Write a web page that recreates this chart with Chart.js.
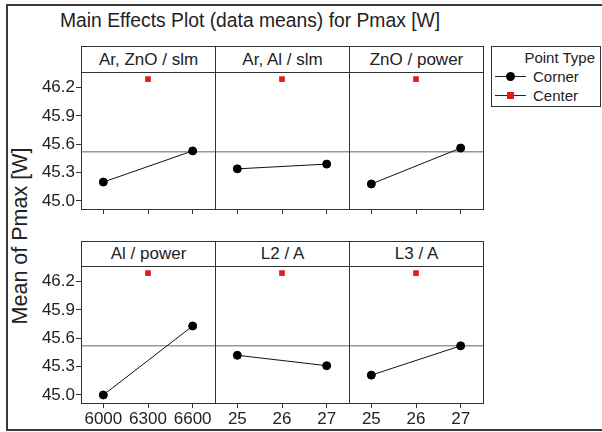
<!DOCTYPE html>
<html>
<head>
<meta charset="utf-8">
<script src="https://cdn.jsdelivr.net/npm/chart.js@4.4.0/dist/chart.umd.min.js"></script>
<style>
  body { margin: 0; width: 602px; height: 432px; background: #fff; position: relative; overflow: hidden;
         font-family: "Liberation Sans", Arial, sans-serif; color: #222; }
  .frame { position: absolute; left: 6px; top: 4px; width: 640px; height: 427px; border: 2px solid #3a3a3a; box-sizing: border-box; }
  .title { position: absolute; left: 60px; top: 10px; font-size: 19.3px; white-space: nowrap; }
  .ytitle { position: absolute; left: 20px; top: 236px; font-size: 21.5px; white-space: nowrap;
            transform: translate(-50%, -50%) rotate(-90deg); }
  .strip { position: absolute; border: 1px solid #333; box-sizing: border-box; background: #fff;
           font-size: 17px; text-align: center; white-space: nowrap; }
  canvas { position: absolute; }
  .legend { position: absolute; left: 491px; top: 46px; width: 110px; height: 61px; border: 1px solid #333;
            box-sizing: border-box; font-size: 15px; }
  .legend .head { position: absolute; right: 5px; top: 2px; }
  .legend .row { position: absolute; left: 3px; height: 18px; }
  .legend .seg { position: absolute; left: 0; top: 9px; width: 31px; height: 1px; background: #222; }
  .legend .mk { position: absolute; }
  .legend .lab { position: absolute; left: 38px; top: 1px; }
</style>
</head>
<body>
<div class="frame"></div>
<div class="title">Main Effects Plot (data means) for Pmax [W]</div>
<div class="ytitle">Mean of Pmax [W]</div>
<div class="legend">
  <div class="head">Point Type</div>
  <div class="row" style="top:20px"><div class="seg"></div><div class="mk" style="left:11px;top:5px;width:9px;height:9px;border-radius:50%;background:#000"></div><div class="lab">Corner</div></div>
  <div class="row" style="top:39px"><div class="seg"></div><div class="mk" style="left:12px;top:6px;width:7px;height:7px;background:#e31a1c"></div><div class="lab">Center</div></div>
</div>
<div id="panels"></div>
<script>
// factors, one per panel
const factors = ['Ar, ZnO / slm', 'Ar, Al / slm', 'ZnO / power', 'Al / power', 'L2 / A', 'L3 / A'];
// level labels (only the bottom row shows them)
const levelLabels = [
  ['', '', ''], ['', '', ''], ['', '', ''],
  ['6000', '6300', '6600'], ['25', '26', '27'], ['25', '26', '27']
];
// means
const cornerLow  = [45.20, 45.34, 45.18, 45.00, 45.42, 45.21];
const cornerHigh = [45.53, 45.39, 45.56, 45.73, 45.31, 45.52];
const centerMean = [46.29, 46.29, 46.29, 46.29, 46.29, 46.29];
const grandMean = 45.52;
const yTicks = [45.0, 45.3, 45.6, 45.9, 46.2];
const yMin = 44.915, yMax = 46.365;

// layout
const colLeft = [81, 215, 349];
const rowTop = [72, 266];
const stripTop = [46, 241];
const plotW = 134, plotH = 137;
const yAxisW = 51, xAxisH = 30;

const frameLines = {
  id: 'frameLines',
  afterDatasetsDraw(chart) {
    const a = chart.chartArea, ctx = chart.ctx;
    ctx.save();
    ctx.strokeStyle = '#333';
    ctx.lineWidth = 1;
    ctx.strokeRect(a.left + 0.5, a.top + 0.5, a.right - a.left, a.bottom - a.top);
    ctx.restore();
  }
};

// no automatic label padding, sizes are fixed by hand
function noPad(s) {
  s.paddingLeft = s.paddingRight = s.paddingTop = s.paddingBottom = 0;
}

const holder = document.getElementById('panels');
factors.forEach((name, i) => {
  const r = Math.floor(i / 3), c = i % 3;
  const extra = c === 0 ? yAxisW : 0;

  const strip = document.createElement('div');
  strip.className = 'strip';
  strip.style.left = colLeft[c] + 'px';
  strip.style.top = stripTop[r] + 'px';
  strip.style.width = (plotW + 1) + 'px';
  strip.style.height = (rowTop[r] - stripTop[r] + 1) + 'px';
  strip.style.lineHeight = (rowTop[r] - stripTop[r] - 1) + 'px';
  strip.textContent = name;
  holder.appendChild(strip);

  const cv = document.createElement('canvas');
  cv.width = extra + plotW + 1;
  cv.height = 1 + plotH + xAxisH;
  cv.style.left = (colLeft[c] - extra) + 'px';
  cv.style.top = (rowTop[r] - 1) + 'px';
  holder.appendChild(cv);

  const labels = levelLabels[i];
  new Chart(cv, {
    type: 'scatter',
    data: {
      datasets: [
        {
          label: 'Corner',
          data: [{ x: 0, y: cornerLow[i] }, { x: 2, y: cornerHigh[i] }],
          showLine: true,
          borderColor: '#111',
          borderWidth: 1,
          pointRadius: 4,
          pointBackgroundColor: '#000',
          pointBorderColor: '#000',
          clip: false
        },
        {
          label: 'Center',
          data: [{ x: 1, y: centerMean[i] }],
          pointStyle: 'rect',
          pointRadius: 4,
          pointBackgroundColor: '#e31a1c',
          pointBorderColor: '#e31a1c',
          pointBorderWidth: 0,
          clip: false
        },
        {
          label: 'Mean',
          data: [{ x: -0.5, y: grandMean }, { x: 2.5, y: grandMean }],
          showLine: true,
          borderColor: '#666',
          borderWidth: 1,
          pointRadius: 0
        }
      ]
    },
    options: {
      responsive: false,
      animation: false,
      devicePixelRatio: 1,
      layout: { autoPadding: false, padding: { top: 1, right: 1, left: 0, bottom: 0 } },
      plugins: { legend: { display: false }, tooltip: { enabled: false } },
      scales: {
        x: {
          type: 'linear',
          min: -0.5,
          max: 2.5,
          afterBuildTicks: s => { s.ticks = [0, 1, 2].map(v => ({ value: v })); },
          afterFit: s => { s.height = xAxisH; noPad(s); },
          grid: { drawOnChartArea: false, drawTicks: true, tickLength: 5, color: '#333' },
          border: { display: false },
          ticks: {
            display: r === 1,
            padding: 1,
            maxRotation: 0,
            color: '#222',
            font: { family: 'Liberation Sans', size: 17 },
            callback: v => labels[v]
          }
        },
        y: {
          min: yMin,
          max: yMax,
          display: c === 0,
          afterBuildTicks: s => { s.ticks = yTicks.map(v => ({ value: v })); },
          afterFit: s => { if (c === 0) s.width = yAxisW; noPad(s); },
          grid: { drawOnChartArea: false, drawTicks: true, tickLength: 5, color: '#333' },
          border: { display: false },
          ticks: {
            padding: 1,
            color: '#222',
            font: { family: 'Liberation Sans', size: 17 },
            callback: v => v.toFixed(1)
          }
        }
      }
    },
    plugins: [frameLines]
  });
});
</script>
</body>
</html>
